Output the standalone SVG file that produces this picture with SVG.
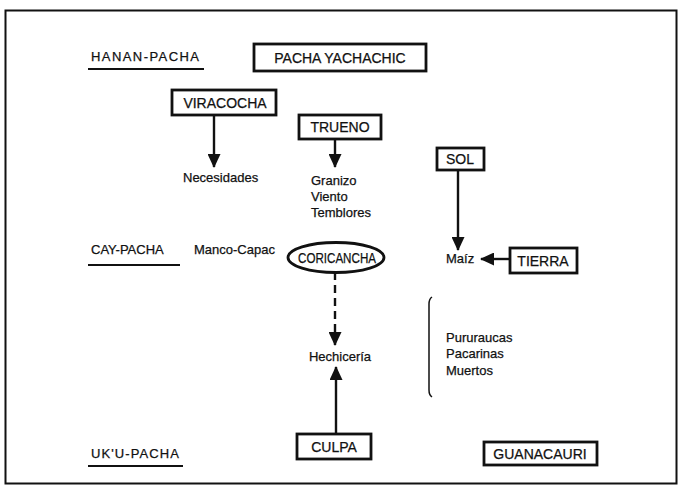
<svg xmlns="http://www.w3.org/2000/svg" width="680" height="496" viewBox="0 0 680 496">
  <style>
    text { font-family: "Liberation Sans", Arial, sans-serif; font-size: 13px; fill: #111; stroke: #111; stroke-width: 0.25; }
    .c { text-anchor: middle; }
    .lab { font-size: 14px; }
    .box { fill: #fff; stroke: #111; stroke-width: 2.8; }
    .rule { stroke: #111; stroke-width: 2; }
    .edge { stroke: #111; stroke-width: 2.4; fill: none; }
    .dash { stroke-dasharray: 8 5; }
  </style>
  <defs>
    <marker id="head" viewBox="0 0 14 13" refX="13" refY="6.5" markerWidth="14" markerHeight="13" markerUnits="userSpaceOnUse" orient="auto">
      <path d="M0,0 L14,6.5 L0,13 Z" fill="#111"/>
    </marker>
  </defs>

  <!-- outer frame -->
  <rect x="5.5" y="10.5" width="671" height="473" fill="none" stroke="#111" stroke-width="2"/>

  <!-- world levels -->
  <g id="hanan-pacha">
    <text x="91" y="61" textLength="108" lengthAdjust="spacing">HANAN-PACHA</text>
    <line class="rule" x1="88" y1="69" x2="204" y2="69"/>
  </g>
  <g id="cay-pacha">
    <text x="91" y="254">CAY-PACHA</text>
    <line class="rule" x1="88" y1="265" x2="180" y2="265"/>
  </g>
  <g id="uku-pacha">
    <text x="91" y="458" textLength="88" lengthAdjust="spacing">UK'U-PACHA</text>
    <line class="rule" x1="88" y1="466" x2="183" y2="466"/>
  </g>

  <!-- connectors -->
  <g id="connectors">
    <line class="edge" x1="214" y1="115" x2="214" y2="167" marker-end="url(#head)"/>
    <line class="edge" x1="335" y1="139" x2="335" y2="167" marker-end="url(#head)"/>
    <line class="edge" x1="458" y1="170" x2="458" y2="250" marker-end="url(#head)"/>
    <line class="edge" x1="510" y1="259" x2="481" y2="259" marker-end="url(#head)"/>
    <line class="edge dash" x1="335" y1="272" x2="335" y2="345" marker-end="url(#head)"/>
    <line class="edge" x1="336" y1="434" x2="336" y2="367" marker-end="url(#head)"/>
  </g>

  <!-- nodes -->
  <g id="pacha-yachachic">
    <rect class="box" x="254" y="44" width="172" height="27"/>
    <text class="c lab" x="340" y="63">PACHA YACHACHIC</text>
  </g>
  <g id="viracocha">
    <rect class="box" x="172" y="90" width="104" height="25"/>
    <text class="c lab" x="225" y="108">VIRACOCHA</text>
  </g>
  <g id="necesidades">
    <text x="183" y="182">Necesidades</text>
  </g>
  <g id="trueno">
    <rect class="box" x="299" y="115" width="82" height="24"/>
    <text class="c lab" x="340" y="132">TRUENO</text>
  </g>
  <g id="granizo">
    <text x="311" y="185">Granizo</text>
    <text x="311" y="201">Viento</text>
    <text x="311" y="217">Temblores</text>
  </g>
  <g id="sol">
    <rect class="box" x="437" y="148" width="47" height="22"/>
    <text class="c lab" x="460" y="164">SOL</text>
  </g>
  <g id="maiz">
    <text x="446" y="263">Maíz</text>
  </g>
  <g id="tierra">
    <rect class="box" x="510" y="248" width="67" height="25"/>
    <text class="c lab" x="543" y="266">TIERRA</text>
  </g>
  <g id="manco-capac">
    <text x="194" y="254">Manco-Capac</text>
  </g>
  <g id="coricancha">
    <ellipse cx="336" cy="257.5" rx="48" ry="15" fill="#fff" stroke="#111" stroke-width="2.8"/>
    <text class="c lab" x="337" y="262.5" textLength="78" lengthAdjust="spacingAndGlyphs">CORICANCHA</text>
  </g>
  <g id="hechiceria">
    <text class="c" x="340" y="361">Hechicería</text>
  </g>
  <g id="pururaucas">
    <path d="M432,297 Q429,299 429,304 L429,390 Q429,395 432,397" fill="none" stroke="#111" stroke-width="1.5"/>
    <text x="446" y="342">Pururaucas</text>
    <text x="446" y="358">Pacarinas</text>
    <text x="446" y="375">Muertos</text>
  </g>
  <g id="culpa">
    <rect class="box" x="297" y="434" width="74" height="25"/>
    <text class="c lab" x="334" y="452">CULPA</text>
  </g>
  <g id="guanacauri">
    <rect class="box" x="484" y="442" width="113" height="23"/>
    <text class="c lab" x="540" y="458.5">GUANACAURI</text>
  </g>
</svg>
